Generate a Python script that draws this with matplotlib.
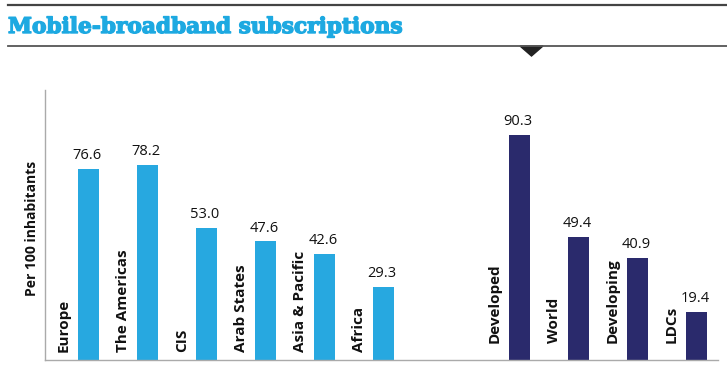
import matplotlib
matplotlib.use("Agg")
import matplotlib.pyplot as plt
import matplotlib.patheffects as pe
import numpy as np

# DATA
regions = ["Europe", "The Americas", "CIS", "Arab States", "Asia & Pacific", "Africa"]
region_values = [76.6, 78.2, 53.0, 47.6, 42.6, 29.3]
groups = ["Developed", "World", "Developing", "LDCs"]
group_values = [90.3, 49.4, 40.9, 19.4]

light_blue = "#27A8E0"
navy = "#2A2A6C"
plt.rcParams["font.family"] = ["Open Sans", "DejaVu Sans"]

fig = plt.figure(figsize=(7.27, 3.71), dpi=100)
ax = fig.add_axes([45 / 727, 11 / 371, 673 / 727, 270 / 371])

width = 0.36
x_reg = np.arange(len(regions))
x_grp = len(regions) - 1 + 2.3 + np.arange(len(groups))

ax.bar(x_reg, region_values, width=width, color=light_blue)
ax.bar(x_grp, group_values, width=width, color=navy)

def label_bars(xs, names, vals, up):
    for x, name, v in zip(xs, names, vals):
        ax.annotate(f"{v:.1f}", xy=(x, v), xytext=(-1, 7), textcoords="offset points",
                    ha="center", va="baseline", fontsize=10.5, color="#111111")
        ax.annotate(name, xy=(x - width / 2, 0), xytext=(-5, up), textcoords="offset points",
                    ha="right", va="bottom", rotation=90, fontsize=11,
                    fontweight="bold", color="#111111")

label_bars(x_reg, regions, region_values, 6)
label_bars(x_grp, groups, group_values, 12)

ax.set_xlim(-0.737, 10.67)
ax.set_ylim(0, 108.4)
ax.set_xticks([])
ax.set_yticks([])
for s in ["top", "right"]:
    ax.spines[s].set_visible(False)
for s in ["left", "bottom"]:
    ax.spines[s].set_color("#aaaaaa")
    ax.spines[s].set_linewidth(1)

fig.text(32 / 727, 1 - 228 / 371, "Per 100 inhabitants", rotation=90, ha="center", va="center",
         fontsize=10, fontweight="bold", color="#111111")

# header
title = fig.text(8 / 727, 1 - 33 / 371, "Mobile-broadband subscriptions", ha="left", va="baseline",
                 fontsize=15.6, fontweight="bold", family="DejaVu Serif", color="#1DA9E1")
title.set_path_effects([pe.withStroke(linewidth=1.0, foreground="#1DA9E1")])
fig.add_artist(plt.Line2D([8 / 727, 1], [1 - 5 / 371] * 2, color="#444444", lw=1.6))
fig.add_artist(plt.Line2D([8 / 727, 1], [1 - 46 / 371] * 2, color="#555555", lw=1.3))
tri = plt.Polygon([[520 / 727, 1 - 46 / 371], [543 / 727, 1 - 46 / 371], [531.5 / 727, 1 - 56 / 371]],
                  closed=True, color="#222222", transform=fig.transFigure)
fig.add_artist(tri)

fig.savefig("out.png", dpi=100)
